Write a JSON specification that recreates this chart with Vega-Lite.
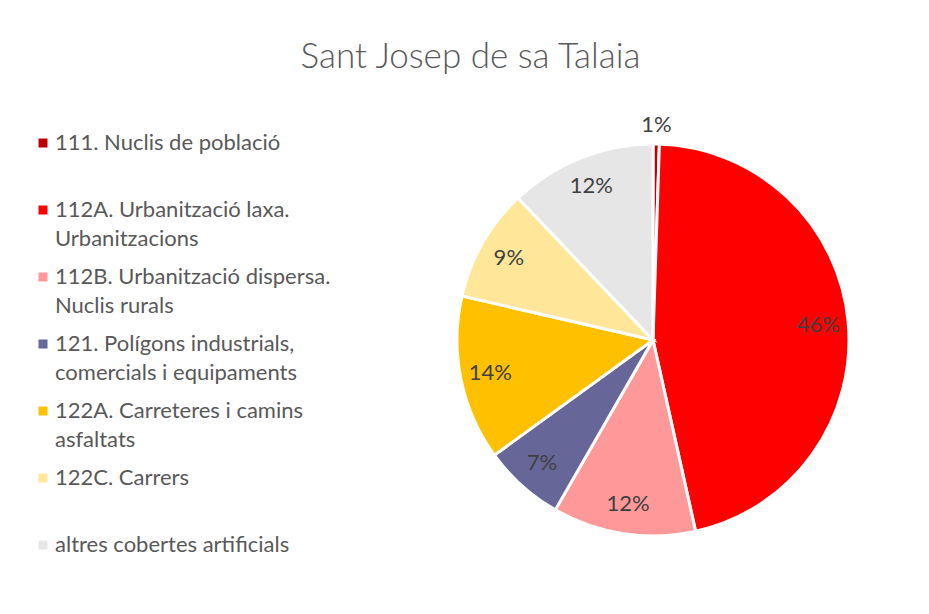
{
  "$schema": "https://vega.github.io/schema/vega-lite/v6.json",
  "width": 925,
  "height": 605,
  "autosize": {"type": "none"},
  "padding": {"left": 8, "top": 13, "right": 0, "bottom": 0},
  "background": "white",
  "config": {
    "view": {"stroke": "#D9D9D9", "strokeWidth": 1.5},
    "font": "Lato",
    "style": {"guide-label": {"lineHeight": 28.5}}
  },
  "title": {"text": "Sant Josep de sa Talaia", "fontSize": 35, "font": "Lato", "fontWeight": 300, "color": "#595959", "anchor": "middle", "frame": "group", "offset": -79, "baseline": "middle"},
  "data": {"values": [
    {"cat": "111. Nuclis de població", "share": 0.0052},
    {"cat": "112A. Urbanització laxa. Urbanitzacions", "share": 0.46},
    {"cat": "112B. Urbanització dispersa. Nuclis rurals", "share": 0.118},
    {"cat": "121. Polígons industrials, comercials i equipaments", "share": 0.067},
    {"cat": "122A. Carreteres i camins asfaltats", "share": 0.136},
    {"cat": "122C. Carrers", "share": 0.093},
    {"cat": "altres cobertes artificials", "share": 0.121}
  ]},
  "layer": [
    {
      "mark": {"type": "arc", "x": 645, "y": 327, "outerRadius": 196, "stroke": "white", "strokeWidth": 3},
      "encoding": {
        "theta": {"field": "share", "type": "quantitative", "stack": true},
        "order": {"field": "cat", "type": "ordinal", "sort": "ascending"},
        "color": {
          "field": "cat", "type": "nominal",
          "scale": {
            "domain": ["111. Nuclis de població", "112A. Urbanització laxa. Urbanitzacions", "112B. Urbanització dispersa. Nuclis rurals", "121. Polígons industrials, comercials i equipaments", "122A. Carreteres i camins asfaltats", "122C. Carrers", "altres cobertes artificials"],
            "range": ["#C00000", "#FF0000", "#FF9999", "#666699", "#FFC000", "#FFE699", "#E7E6E6"]
          },
          "legend": {
            "title": null,
            "orient": "none",
            "legendX": 24,
            "legendY": 119,
            "padding": 0,
            "symbolType": "square",
            "symbolSize": 81,
            "symbolStrokeWidth": 0,
            "labelFont": "Lato",
            "labelFontSize": 22,
            "labelColor": "#595959",
            "labelLimit": 500,
            "labelOffset": 1,
            "rowPadding": 16,
            "labelExpr": "datum.label == '112A. Urbanització laxa. Urbanitzacions' ? ['112A. Urbanització laxa.', 'Urbanitzacions'] : datum.label == '112B. Urbanització dispersa. Nuclis rurals' ? ['112B. Urbanització dispersa.', 'Nuclis rurals'] : datum.label == '121. Polígons industrials, comercials i equipaments' ? ['121. Polígons industrials,', 'comercials i equipaments'] : datum.label == '122A. Carreteres i camins asfaltats' ? ['122A. Carreteres i camins', 'asfaltats'] : [datum.label, '']",
            "encode": {"labels": {"enter": {"lineHeight": {"value": 28.5}}}}
          }
        }
      }
    },
    {
      "mark": {"type": "text", "x": 645, "y": 327, "radius": 166, "fontSize": 22, "font": "Lato", "color": "#404040"},
      "encoding": {
        "theta": {"field": "share", "type": "quantitative", "stack": true},
        "order": {"field": "cat", "type": "ordinal", "sort": "ascending"},
        "detail": {"field": "cat", "type": "nominal"},
        "text": {"field": "share", "type": "quantitative", "format": ".0%"},
        "opacity": {"condition": {"test": "datum.share < 0.01", "value": 0}, "value": 1}
      }
    },
    {
      "mark": {"type": "text", "x": 645, "y": 327, "radius": 215, "fontSize": 22, "font": "Lato", "color": "#404040"},
      "encoding": {
        "theta": {"field": "share", "type": "quantitative", "stack": true},
        "order": {"field": "cat", "type": "ordinal", "sort": "ascending"},
        "detail": {"field": "cat", "type": "nominal"},
        "text": {"field": "share", "type": "quantitative", "format": ".0%"},
        "opacity": {"condition": {"test": "datum.share < 0.01", "value": 1}, "value": 0}
      }
    }
  ]
}
